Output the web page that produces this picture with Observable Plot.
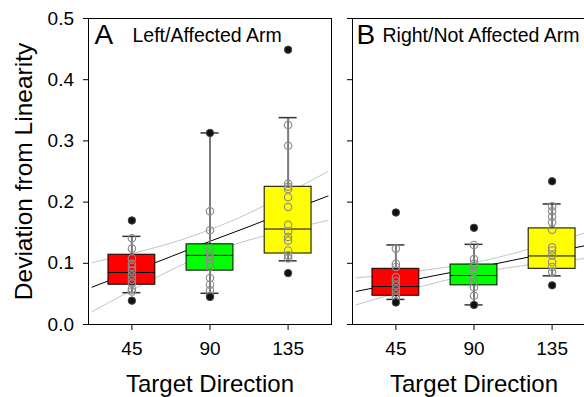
<!DOCTYPE html>
<html><head><meta charset="utf-8">
<script src="https://cdn.jsdelivr.net/npm/d3@7"></script>
<script src="https://cdn.jsdelivr.net/npm/@observablehq/plot@0.6"></script>
<style>
html,body{margin:0;padding:0;background:#fff;overflow:hidden;}
#wrap{position:relative;width:584px;height:397px;overflow:hidden;}
#wrap svg{position:absolute;top:0;}
</style></head><body><div id="wrap"></div>
<script>
// ---- data ----
const directions = [45, 90, 135];
const boxColors = ["#ff0000", "#00ff00", "#ffff00"];
const yTicks = [0, 0.1, 0.2, 0.3, 0.4, 0.5];

// Left / Affected arm box summaries
const leftQ1 = [0.065, 0.088, 0.116];
const leftMedian = [0.085, 0.113, 0.156];
const leftQ3 = [0.114, 0.131, 0.225];
const leftLow = [0.052, 0.051, 0.104];
const leftHigh = [0.144, 0.313, 0.338];
const leftPoints = [
  [0.141, 0.124, 0.108, 0.099, 0.094, 0.088, 0.080, 0.073, 0.067, 0.058, 0.054],
  [0.185, 0.154, 0.124, 0.117, 0.111, 0.106, 0.099, 0.094, 0.076, 0.065, 0.056, 0.047],
  [0.326, 0.292, 0.230, 0.225, 0.221, 0.208, 0.192, 0.163, 0.152, 0.143, 0.137, 0.121, 0.113, 0.108]
];
const leftOutliers = [[0.170, 0.039], [0.313, 0.045], [0.449, 0.084]];

// Right / Not affected arm box summaries
const rightQ1 = [0.047, 0.064, 0.091];
const rightMedian = [0.062, 0.080, 0.112];
const rightQ3 = [0.091, 0.098, 0.157];
const rightLow = [0.041, 0.032, 0.0795];
const rightHigh = [0.130, 0.131, 0.197];
const rightPoints = [
  [0.124, 0.099, 0.094, 0.077, 0.071, 0.064, 0.057, 0.050, 0.044],
  [0.130, 0.107, 0.099, 0.094, 0.086, 0.077, 0.069, 0.061, 0.047],
  [0.193, 0.185, 0.176, 0.167, 0.155, 0.126, 0.121, 0.113, 0.102, 0.094, 0.086]
];
const rightOutliers = [[0.183, 0.036], [0.158, 0.032], [0.234, 0.064]];

// regression line and confidence band, read at these directions
const fitX = [22, 45, 67.5, 90, 112.5, 135, 158];
const leftFit = [0.061, 0.086, 0.111, 0.136, 0.160, 0.185, 0.210];
const leftUpper = [0.101, 0.116, 0.133, 0.155, 0.182, 0.215, 0.250];
const leftLower = [0.021, 0.056, 0.089, 0.117, 0.138, 0.155, 0.170];
const rightFit = [0.054, 0.067, 0.080, 0.092, 0.105, 0.118, 0.131];
const rightUpper = [0.076, 0.083, 0.091, 0.101, 0.116, 0.134, 0.153];
const rightLower = [0.032, 0.051, 0.068, 0.083, 0.094, 0.102, 0.109];

const FONT = "'Liberation Sans', Arial, Helvetica, sans-serif";
const boxHalf = 13.5, capHalf = 5.2;

function panel(cfg) {
  const rows = directions.map((dir, i) => ({dir, color: boxColors[i], q1: cfg.q1[i], med: cfg.med[i], q3: cfg.q3[i], lo: cfg.low[i], hi: cfg.high[i]}));
  const pts = cfg.points.flatMap((arr, i) => arr.map(v => ({dir: directions[i], v})));
  const outs = cfg.outliers.flatMap((arr, i) => arr.map(v => ({dir: directions[i], v})));
  const fit = fitX.map((x, i) => ({x, fit: cfg.fit[i], up: cfg.upper[i], lo: cfg.lower[i]}));
  const marks = [
    Plot.line(fit, {x: "x", y: "up", stroke: "#c4c4c4", strokeWidth: 1, curve: "natural"}),
    Plot.line(fit, {x: "x", y: "lo", stroke: "#c4c4c4", strokeWidth: 1, curve: "natural"}),
    Plot.line(fit, {x: "x", y: "fit", stroke: "black", strokeWidth: 1}),
    Plot.ruleX(rows, {x: "dir", y1: "lo", y2: "hi", stroke: "#7a7a7a", strokeWidth: 2}),
    Plot.rect(rows, {x1: d => d.dir - boxHalf, x2: d => d.dir + boxHalf, y1: "q1", y2: "q3", fill: "color", stroke: "black", strokeWidth: 1}),
    Plot.ruleY(rows, {y: "med", x1: d => d.dir - boxHalf, x2: d => d.dir + boxHalf, stroke: "black", strokeWidth: 1}),
    Plot.ruleY(rows, {y: "lo", x1: d => d.dir - capHalf, x2: d => d.dir + capHalf, stroke: "#333", strokeWidth: 1.5}),
    Plot.ruleY(rows, {y: "hi", x1: d => d.dir - capHalf, x2: d => d.dir + capHalf, stroke: "#333", strokeWidth: 1.5}),
    Plot.dot(pts, {x: "dir", y: "v", r: 3.7, stroke: "#8c8c8c", fill: "none", strokeWidth: 1.2}),
    Plot.dot(outs, {x: "dir", y: "v", r: 3.7, fill: "#111", stroke: "#444", strokeWidth: 1}),
    Plot.frame({stroke: "black"}),
    Plot.axisY({ticks: yTicks, tickSize: 5, tickPadding: 9.5, tickFormat: cfg.showY ? d3.format(".1f") : () => "", label: null}),
    Plot.axisX({ticks: directions, tickSize: 6, tickPadding: 11, tickFormat: d => String(d), label: null}),
    Plot.text([cfg.letter], {text: d => d, frameAnchor: "top-left", textAnchor: "start", lineAnchor: "top", dx: cfg.letterDx, dy: 6, fontSize: 28}),
    Plot.text([cfg.title], {text: d => d, frameAnchor: "top-left", textAnchor: "start", lineAnchor: "top", dx: cfg.titleDx, dy: 10, fontSize: 19.5}),
    Plot.text(["Target Direction"], {text: d => d, frameAnchor: "bottom", textAnchor: "middle", lineAnchor: "middle", dy: 60, fontSize: 24})
  ];
  if (cfg.showY) marks.push(Plot.text(["Deviation from Linearity"], {text: d => d, frameAnchor: "left", textAnchor: "middle", lineAnchor: "middle", dx: -64, rotate: -90, fontSize: 24.5}));
  return Plot.plot({
    width: cfg.width, height: 397,
    marginLeft: cfg.marginLeft, marginRight: cfg.marginRight, marginTop: 18, marginBottom: 73,
    x: {domain: [20, 160]},
    y: {domain: [0, 0.5]},
    style: {fontFamily: FONT, fontSize: "19px", color: "black", background: "white", overflow: "visible"},
    marks
  });
}

const wrap = document.getElementById("wrap");
const a = panel({width: 340, marginLeft: 88, marginRight: 9, q1: leftQ1, med: leftMedian, q3: leftQ3, low: leftLow, high: leftHigh,
  points: leftPoints, outliers: leftOutliers, fit: leftFit, upper: leftUpper, lower: leftLower,
  showY: true, letter: "A", letterDx: 6, title: "Left/Affected Arm", titleDx: 44});
a.style.left = "0px";
const b = panel({width: 258, marginLeft: 12, marginRight: 3, q1: rightQ1, med: rightMedian, q3: rightQ3, low: rightLow, high: rightHigh,
  points: rightPoints, outliers: rightOutliers, fit: rightFit, upper: rightUpper, lower: rightLower,
  showY: false, letter: "B", letterDx: 4, title: "Right/Not Affected Arm", titleDx: 30});
b.style.left = "340px";
wrap.appendChild(a);
wrap.appendChild(b);
</script>
</body></html>
